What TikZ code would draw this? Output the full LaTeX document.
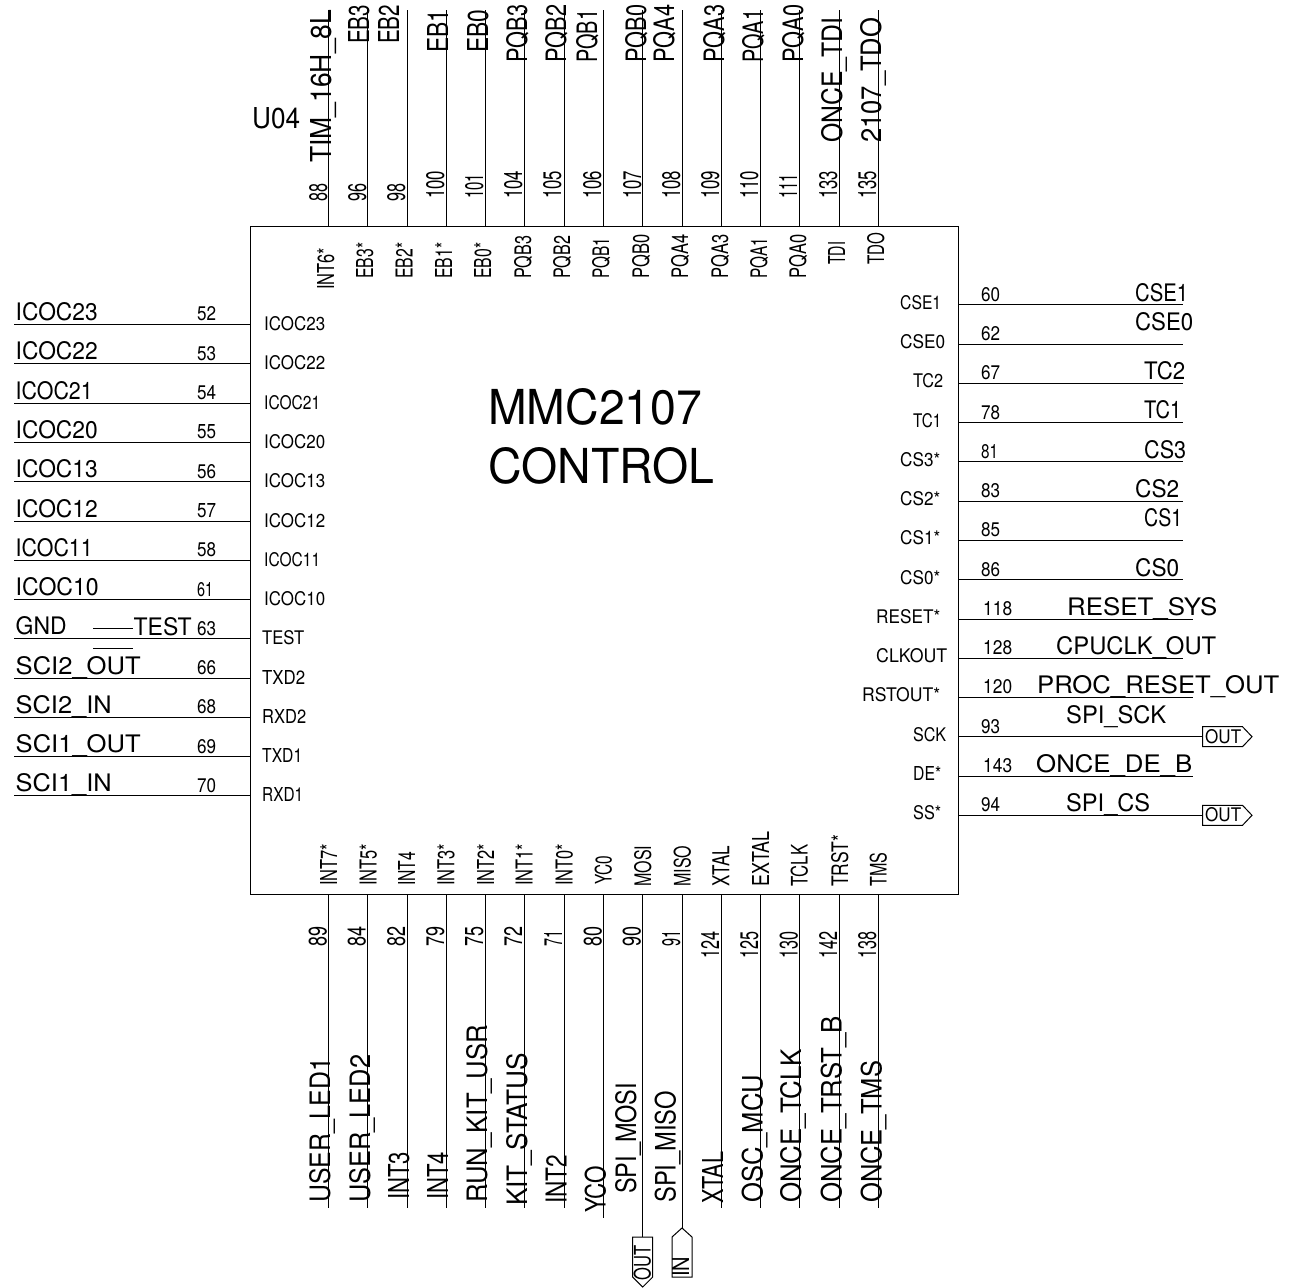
\documentclass[tikz,border=0pt]{standalone}
\usepackage{fontspec}
\setmainfont{TeX Gyre Heros}
\usetikzlibrary{calc}
\newcommand{\fitlab}[3]{\resizebox{#1pt}{#2pt}{#3}}
\tikzset{
  wire/.style={line width=1pt},
  hlab/.style={inner sep=0pt, anchor=base west},
  vlab/.style={inner sep=0pt, anchor=base west, rotate=90}
}

\begin{document}
\begin{tikzpicture}[x=1pt, y=-1pt]
  \useasboundingbox (0, 0) rectangle (1291, 1288);
  \node (chip) [rectangle, draw, line width=1pt, inner sep=0pt, minimum width=708pt, minimum height=668pt] at (604, 560) {};
  \node (title1) [hlab] at (488, 424) {\fitlab{214}{36}{MMC2107}};
  \node (title2) [hlab] at (488, 483) {\fitlab{226}{36}{CONTROL}};
  \node (refdes) [hlab] at (252, 128) {\fitlab{48}{21}{U04}};

  % left side
  \foreach \y/\net/\nlen/\pin/\plen/\sig/\slen/\sx in {
    324.3/ICOC23/82/52/19/ICOC23/61/264,
    363.7/ICOC22/82/53/19/ICOC22/61/264,
    403/ICOC21/77/54/19/ICOC21/56/264,
    442.3/ICOC20/82/55/19/ICOC20/61/264,
    481.6/ICOC13/82/56/19/ICOC13/61/264,
    521/ICOC12/82/57/19/ICOC12/61/264,
    560.2/ICOC11/77/58/19/ICOC11/56/264,
    599.5/ICOC10/83/61/16/ICOC10/61/264,
    638.7/GND/51/63/19/TEST/42/262,
    678/SCI2\_OUT/125/66/19/TXD2/43/262,
    717.2/SCI2\_IN/96/68/19/RXD2/44/262,
    756.5/SCI1\_OUT/125/69/19/TXD1/40/262,
    795.8/SCI1\_IN/96/70/19/RXD1/41/262} {
    \coordinate (lend\pin) at (14, \y);
    \coordinate (lpin\pin) at (250, \y);
    \draw[wire] (lend\pin) -- (lpin\pin);
    \node (net\pin) [hlab] at (15.5, \y-4) {\fitlab{\nlen}{18}{\net}};
    \node (no\pin) [hlab] at (197, \y-3.5) {\fitlab{\plen}{14}{\pin}};
    \node (sig\pin) [hlab] at (\sx, \y+6) {\fitlab{\slen}{14}{\sig}};
  }
  \node (test) [hlab] at (133.5, 635) {\fitlab{58}{18}{TEST}};
  \coordinate (gnda) at (93, 628.7);
  \coordinate (gndb) at (133, 628.7);
  \coordinate (gndc) at (93, 648);
  \coordinate (gndd) at (133, 648);
  \draw[wire] (gnda) -- (gndb);
  \draw[wire] (gndc) -- (gndd);

  % right side
  \foreach \y/\xe/\net/\nx/\ny/\nlen/\pin/\px/\plen/\sig/\sx/\slen in {
    304.7/1183/CSE1/1135/301.7/53/60/981/19/CSE1/900/41,
    344/1183/CSE0/1135/330/58/62/981/19/CSE0/900/45,
    383.3/1183/TC2/1144/379/41/67/981/19/TC2/913/30,
    422.6/1183/TC1/1144/418/37/78/981/19/TC1/913/28,
    461.9/1183/CS3/1144/458/42/81/981/17/CS3*/900/40,
    501/1183/CS2/1135/497/44/83/981/19/CS2*/900/40,
    540.3/1183/CS1/1144/526/38/85/981/19/CS1*/900/40,
    579.6/1183/CS0/1135/576.5/44/86/981/19/CS0*/900/40,
    619/1193/RESET\_SYS/1067/615/150/118/983/29/RESET*/876/64,
    658/1183/CPUCLK\_OUT/1056/654/160/128/983/29/CLKOUT/876/71,
    697.4/1193/PROC\_RESET\_OUT/1037/693/242/120/983/29/RSTOUT*/862/78,
    736.7/1202.5/SPI\_SCK/1066/723/100/93/981/19/SCK/913/33,
    776/1193/ONCE\_DE\_B/1036/772/156/143/983/29/DE*/913/28,
    815.3/1202.5/SPI\_CS/1066/811/84/94/981/19/SS*/913/28} {
    \coordinate (rpin\pin) at (958, \y);
    \coordinate (rend\pin) at (\xe, \y);
    \draw[wire] (rpin\pin) -- (rend\pin);
    \node (net\pin) [hlab] at (\nx, \ny) {\fitlab{\nlen}{18}{\net}};
    \node (no\pin) [hlab] at (\px, \y-3.5) {\fitlab{\plen}{14}{\pin}};
    \node (sig\pin) [hlab] at (\sx, \y+4.5) {\fitlab{\slen}{14}{\sig}};
  }
  \foreach \p in {93, 94} {
    \draw[wire] (rend\p) -- ++(0, -10) -- ++(40, 0) -- ++(9.5, 10) -- ++(-9.5, 10) -- ++(-40, 0) -- cycle;
    \node (flag\p) [hlab] at ($(rend\p)+(2.5, 6.5)$) {\fitlab{36}{14}{OUT}};
  }

  % top side
  \foreach \x/\net/\nb/\ny/\nlen/\pin/\pb/\py/\plen/\sig/\sb/\sy/\slen in {
    328.5/TIM\_16H\_8L/331/163/153/88/327/202/18/INT6*/334/290/42,
    367.8/EB3/369/44/39/96/366/202/18/EB3*/373/279/36,
    407/EB2/399/44/39/98/405/202/18/EB2*/412.7/279/36,
    446.3/EB1/448/53/43/100/444/199/28/EB1*/452/279/36,
    485.6/EB0/488/53/43/101/483/199/25/EB0*/491/279/36,
    524.9/PQB3/527/63/58/104/522/199/28/PQB3/531/279/43,
    564.2/PQB2/566/63/58/105/561/199/28/PQB2/570/279/43,
    603.4/PQB1/597/63/53/106/601/199/28/PQB1/609/279/41,
    642.7/PQB0/646/63/58/107/641/199/28/PQB0/649/279/44,
    682/PQA4/674/63/58/108/680/199/28/PQA4/688/279/44,
    721.3/PQA3/724/63/58/109/719/199/28/PQA3/728/279/44,
    760.6/PQA1/763/63/53/110/758/199/28/PQA1/767/279/41,
    799.9/PQA0/803/63/58/111/797/199/25/PQA0/806/279/44,
    839.1/ONCE\_TDI/842/143/125/133/837/199/28/TDI/845/265/23,
    878.4/2107\_TDO/881/143/125/135/876/199/28/TDO/884/265/32} {
    \coordinate (tend\pin) at (\x, 10);
    \coordinate (tpin\pin) at (\x, 226);
    \draw[wire] (tend\pin) -- (tpin\pin);
    \node (net\pin) [vlab] at (\nb, \ny) {\fitlab{\nlen}{21}{\net}};
    \node (no\pin) [vlab] at (\pb, \py) {\fitlab{\plen}{18}{\pin}};
    \node (sig\pin) [vlab] at (\sb, \sy) {\fitlab{\slen}{17}{\sig}};
  }

  % bottom side
  \foreach \x/\ye/\net/\nb/\ny/\nlen/\pin/\pb/\py/\plen/\sig/\sb/\sy/\slen in {
    328.5/1208/USER\_LED1/330/1203/145/89/326.7/947/20/INT7*/337/886/42,
    367.8/1208/USER\_LED2/370/1203/148/84/365.7/947/20/INT5*/376.7/886/42,
    407/1208/INT3/409/1200/48/82/405/947/20/INT4/415/886/34,
    446.3/1208/INT4/448/1200/48/79/444/947/20/INT3*/454.3/886/42,
    485.6/1208/RUN\_KIT\_USR/487/1203/178/75/483/947/20/INT2*/494/886/42,
    524.9/1208/KIT\_STATUS/527.7/1206/153/72/522/947/20/INT1*/532.7/886/42,
    564.2/1208/INT2/566.7/1204/49/71/562/947/16/INT0*/572.7/886/42,
    603.4/1218/YCO/605.7/1213/47/80/601.7/947/20/YC0/611.7/885/29,
    642.7/1237/SPI\_MOSI/636/1194/111/90/640.7/947/20/MOSI/651/887/41,
    682/1228/SPI\_MISO/675.7/1203/112/91/680/947/16/MISO/690.7/887/41,
    721.3/1208/XTAL/723/1204/52/124/719/959/27/XTAL/729.3/887/41,
    760.6/1208/OSC\_MCU/762.7/1203/128/125/758/959/27/EXTAL/769/887/55,
    799.9/1208/ONCE\_TCLK/801.7/1203/154/130/797.7/959/27/TCLK/807.7/887/42,
    839.1/1208/ONCE\_TRST\_B/841.7/1203/187/142/837/959/27/TRST*/848/887/52,
    878.4/1208/ONCE\_TMS/881.7/1203/142/138/876/959/27/TMS/886.7/887/34} {
    \coordinate (bpin\pin) at (\x, 894);
    \coordinate (bend\pin) at (\x, \ye);
    \draw[wire] (bpin\pin) -- (bend\pin);
    \node (net\pin) [vlab] at (\nb, \ny) {\fitlab{\nlen}{21}{\net}};
    \node (no\pin) [vlab] at (\pb, \py) {\fitlab{\plen}{18}{\pin}};
    \node (sig\pin) [vlab] at (\sb, \sy) {\fitlab{\slen}{17}{\sig}};
  }
  \draw[wire] (bend90) -- ++(10, 0) -- ++(0, 40) -- ++(-10, 10) -- ++(-10, -10) -- ++(0, -40) -- cycle;
  \draw[wire] (bend91) -- ++(10, 9) -- ++(0, 40) -- ++(-20, 0) -- ++(0, -40) -- cycle;
  \node (flag90) [vlab] at (650.7, 1280.7) {\fitlab{35}{17}{OUT}};
  \node (flag91) [vlab] at (689, 1277) {\fitlab{20}{17}{IN}};
\end{tikzpicture}
\end{document}
